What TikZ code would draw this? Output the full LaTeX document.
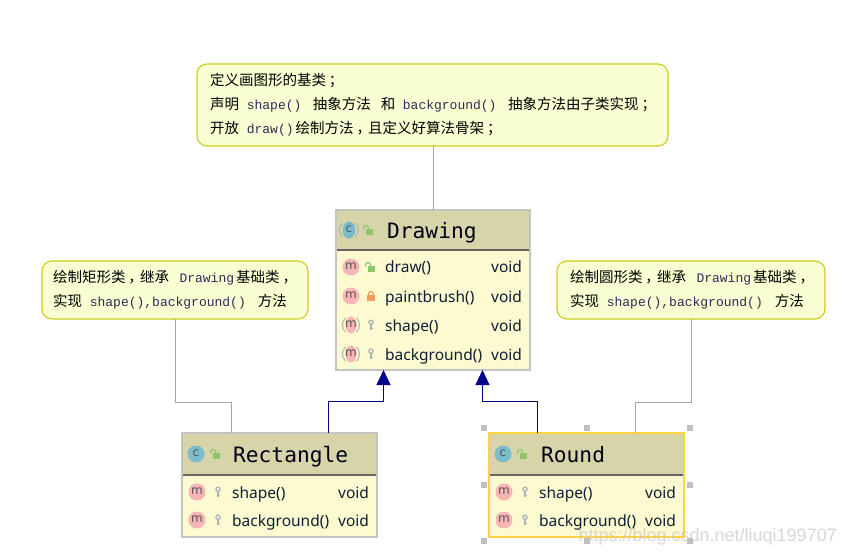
\documentclass[tikz,border=0pt]{standalone}
\usepackage{fontspec}
\usetikzlibrary{arrows.meta}
\setmainfont{Noto Sans CJK SC}
\newfontfamily\codefont{Liberation Mono}
\newfontfamily\titlefont{DejaVu Sans Mono}
\newfontfamily\memberfont{Noto Sans}
\newfontfamily\markfont{DejaVu Sans}
\newfontfamily\stampfont{Liberation Sans}
\definecolor{notefill}{HTML}{F9FFD2}
\definecolor{noteedge}{HTML}{CDCD12}
\definecolor{codeink}{HTML}{2F2A55}
\definecolor{headfill}{HTML}{D8D4A9}
\definecolor{bodyfill}{HTML}{FDFAD2}
\definecolor{boxedge}{HTML}{C4C4C0}
\definecolor{picked}{HTML}{FFD23F}
\definecolor{rule}{HTML}{66665E}
\definecolor{linkgrey}{HTML}{A6A6A6}
\definecolor{navy}{HTML}{00008B}
\definecolor{markblue}{HTML}{7CBBCB}
\definecolor{markpink}{HTML}{F9B4B4}
\definecolor{markink}{HTML}{55555A}
\definecolor{lockgreen}{HTML}{8FC46F}
\definecolor{lockorange}{HTML}{F59A5B}
\definecolor{keygrey}{HTML}{A9B3B8}
\definecolor{membink}{HTML}{0E1F33}
\definecolor{handle}{HTML}{C0C0C0}
\newcommand{\cd}[1]{{\codefont\fontsize{13}{24}\selectfont\textcolor{codeink}{#1}}}
% gap lengths between runs of code and Chinese text
\newcommand{\gp}[1]{\hspace*{#1pt}}
% full-width punctuation set a little further right in its cell
\newcommand{\pk}[1]{\hspace*{3pt}#1\hspace*{-3pt}}
\tikzset{
  x=1pt, y=-1pt,
  note/.style={draw=noteedge, fill=notefill, line width=1.1pt, rounded corners=10pt,
    anchor=north west, inner ysep=0pt, outer sep=0pt, minimum height=#1,
    font=\fontsize{14.5}{24}\selectfont, align=left, text=black},
  classbox/.style={fill=bodyfill, anchor=north west, outer sep=0pt,
    minimum width=195pt, inner sep=0pt},
  classedge/.style={draw=#1, line width=1.3pt},
  headbar/.style={fill=headfill, anchor=north west, inner sep=0pt, outer sep=0pt, minimum width=195pt},
  classname/.style={anchor=base west, inner sep=0pt, text=black!90!blue,
    font=\titlefont\fontsize{21.2}{24}\selectfont},
  member/.style={anchor=base west, inner sep=0pt, text=membink,
    font=\memberfont\fontsize{15.5}{18}\selectfont},
  greylink/.style={draw=linkgrey, line width=1pt},
  inherits/.style={draw=navy, line width=1pt, -{Triangle[width=14pt,length=15pt]}},
  handlemark/.style={fill=handle, minimum size=6pt, inner sep=0pt},
  pics/cmark/.style={code={
    \fill[markblue] (0,0) circle (8.5);
    \node[text=markink, font=\markfont\fontsize{12}{12}\selectfont, inner sep=0pt] at (0,-0.5) {c};
  }},
  pics/cmarkabs/.style={code={
    \fill[markblue] (0,0) ellipse (6.5 and 8.5);
    \draw[keygrey, line width=1pt] (-6.5,-7) .. controls (-10.5,-3) and (-10.5,3) .. (-6.5,7);
    \draw[keygrey, line width=1pt] (6.5,-7) .. controls (10.5,-3) and (10.5,3) .. (6.5,7);
    \node[text=markink, font=\markfont\fontsize{12}{12}\selectfont, inner sep=0pt] at (0,-0.5) {c};
  }},
  pics/mmark/.style={code={
    \fill[markpink] (0,0) circle (8.5);
    \node[text=markink, font=\markfont\fontsize{12}{12}\selectfont, inner sep=0pt] at (0,-0.5) {m};
  }},
  pics/mmarkabs/.style={code={
    \fill[markpink] (0,0) ellipse (5.5 and 8.5);
    \draw[keygrey, line width=1pt] (-5.5,-7) .. controls (-9.5,-3) and (-9.5,3) .. (-5.5,7);
    \draw[keygrey, line width=1pt] (5.5,-7) .. controls (9.5,-3) and (9.5,3) .. (5.5,7);
    \node[text=markink, font=\markfont\fontsize{12}{12}\selectfont, inner sep=0pt] at (0,-0.5) {m};
  }},
  pics/openlock/.style={code={
    \fill[lockgreen] (-2.5,-1) rectangle (5,5);
    \draw[lockgreen, line width=1.2pt] (-4.4,-0.5) -- (-4.4,-2.2) arc[start angle=180, end angle=360, radius=2.4] -- (0.4,-1);
  }},
  pics/closedlock/.style={code={
    \fill[lockorange] (-3.8,-1) rectangle (3.8,5);
    \draw[lockorange, line width=1.2pt] (-2.2,-1) -- (-2.2,-2.5) arc[start angle=180, end angle=360, radius=2.2] -- (2.2,-1);
  }},
  pics/keymark/.style={code={
    \draw[keygrey, line width=1.3pt] (0,-2.7) circle (2.1);
    \draw[keygrey, line width=1.6pt] (0,-0.6) -- (0,4.8);
    \draw[keygrey, line width=1pt] (0,3.2) -- (1.7,3.2);
  }},
}
\begin{document}
\begin{tikzpicture}
\useasboundingbox (0,0) rectangle (846,553);
\fill[white] (0,0) rectangle (846,553);

% Notes
\node[note=82pt, inner xsep=13pt, text width=445pt] (noteBase) at (197,64) {%
\mbox{定义画图形的基类\pk{；}}\\
\mbox{声明\gp{7.8}\cd{shape()}\gp{11.5}抽象方法\gp{10}和\gp{7.5}\cd{background()}\gp{11.5}抽象方法由子类实现\pk{；}}\\
\mbox{开放\gp{7.8}\cd{draw()}\gp{2}绘制方法\pk{，}且定义好算法骨架\pk{；}}};
\node[note=58pt, inner xsep=11pt, text width=244pt] (noteRect) at (42,261) {%
\mbox{绘制矩形类\pk{，}继承\gp{10.5}\cd{Drawing}\gp{2}基础类\pk{，}}\\
\mbox{实现\gp{7.8}\cd{shape(),background()}\gp{12}方法}};
\node[note=58pt, inner xsep=13pt, text width=242pt] (noteRound) at (557,261) {%
\mbox{绘制圆形类\pk{，}继承\gp{10.5}\cd{Drawing}\gp{2}基础类\pk{，}}\\
\mbox{实现\gp{7.8}\cd{shape(),background()}\gp{12}方法}};

% Drawing class
\node[classbox, minimum width=194pt, minimum height=160pt] (drawing) at (336,210) {};
\node[headbar, minimum width=194pt, minimum height=40pt] (drawingHead) at (336,210) {};
\draw[rule, line width=1.1pt] (drawingHead.south west) -- (drawingHead.south east);
\draw[classedge=boxedge] (drawing.north west) rectangle (drawing.south east);
\pic at (349,230) {cmarkabs};
\pic at (368,230) {openlock};
\node[classname] (drawingName) at (387,239) {Drawing};
\pic at (351,267) {mmark};
\pic at (370,267) {openlock};
\node[member] (mDraw) at (385,273) {draw()};
\node[member] (tDraw) at (491,273) {void};
\pic at (351,296) {mmark};
\pic at (371,296) {closedlock};
\node[member] (mPaint) at (385,302) {paintbrush()};
\node[member] (tPaint) at (491,302) {void};
\pic at (351,325) {mmarkabs};
\pic at (371,325) {keymark};
\node[member] (mShape) at (385,331) {shape()};
\node[member] (tShape) at (491,331) {void};
\pic at (351,354) {mmarkabs};
\pic at (371,354) {keymark};
\node[member] (mBack) at (385,360) {background()};
\node[member] (tBack) at (491,360) {void};

% Rectangle class
\node[classbox, minimum height=104pt] (rectangle) at (182,433) {};
\node[headbar, minimum height=42pt] (rectangleHead) at (182,433) {};
\draw[rule, line width=1.1pt] (rectangleHead.south west) -- (rectangleHead.south east);
\draw[classedge=boxedge] (rectangle.north west) rectangle (rectangle.south east);
\pic at (196,454) {cmark};
\pic at (215,454) {openlock};
\node[classname] (rectangleName) at (233,462) {Rectangle};
\pic at (197,492) {mmark};
\pic at (218,492) {keymark};
\node[member] (rShape) at (232,498) {shape()};
\node[member] (rShapeT) at (338,498) {void};
\pic at (197,520) {mmark};
\pic at (218,520) {keymark};
\node[member] (rBack) at (232,526) {background()};
\node[member] (rBackT) at (338,526) {void};

% Round class, shown selected
\node[classbox, minimum height=104pt] (round) at (489,433) {};
\node[headbar, minimum height=42pt] (roundHead) at (489,433) {};
\draw[rule, line width=1.1pt] (roundHead.south west) -- (roundHead.south east);
\draw[classedge=picked] (round.north west) rectangle (round.south east);
\pic at (503,454) {cmark};
\pic at (522,454) {openlock};
\node[classname] (roundName) at (541,462) {Round};
\pic at (504,492) {mmark};
\pic at (525,492) {keymark};
\node[member] (oShape) at (539,498) {shape()};
\node[member] (oShapeT) at (645,498) {void};
\pic at (504,520) {mmark};
\pic at (525,520) {keymark};
\node[member] (oBack) at (539,526) {background()};
\node[member] (oBackT) at (645,526) {void};

% Selection handles around Round
\node[handlemark] (h1) at (484,428) {};
\node[handlemark] (h2) at (587,428) {};
\node[handlemark] (h3) at (690,428) {};
\node[handlemark] (h4) at (484,485) {};
\node[handlemark] (h5) at (690,485) {};
\node[handlemark] (h6) at (484,541) {};
\node[handlemark] (h7) at (587,541) {};
\node[handlemark] (h8) at (690,541) {};

% Note links, laid on pixel centres
\coordinate (baseLinkEnd) at ([xshift=0.5pt]drawing.north);
\draw[greylink] (noteBase.south -| baseLinkEnd) -- (baseLinkEnd);
\coordinate (rectLinkTop) at ([xshift=133.5pt]noteRect.south west);
\coordinate (rectLinkEnd) at ([xshift=49.5pt]rectangle.north west);
\coordinate (roundLinkTop) at ([xshift=134.5pt]noteRound.south west);
\coordinate (roundLinkEnd) at ([xshift=146.5pt]round.north west);
\draw[greylink] (rectLinkTop) -- (rectLinkTop |- 0,402.5) -- (rectLinkEnd |- 0,402.5) -- (rectLinkEnd);
\draw[greylink] (roundLinkTop) -- (roundLinkTop |- 0,402.5) -- (roundLinkEnd |- 0,402.5) -- (roundLinkEnd);

% Inheritance links
\coordinate (rectUp) at ([xshift=146.5pt]rectangle.north west);
\coordinate (rectTip) at ([xshift=47.5pt]drawing.south west);
\coordinate (roundUp) at ([xshift=48.5pt]round.north west);
\coordinate (roundTip) at ([xshift=146.5pt]drawing.south west);
\draw[inherits] (rectUp) -- (rectUp |- 0,401.5) -- (rectTip |- 0,401.5) -- (rectTip);
\draw[inherits] (roundUp) -- (roundUp |- 0,401.5) -- (roundTip |- 0,401.5) -- (roundTip);

% Source stamp
\node[anchor=base east, inner sep=0pt, text=black!22, opacity=0.7,
  font=\stampfont\fontsize{18}{20}\selectfont] (stamp) at (837,541) {https://blog.csdn.net/liuqi199707};
\end{tikzpicture}
\end{document}
